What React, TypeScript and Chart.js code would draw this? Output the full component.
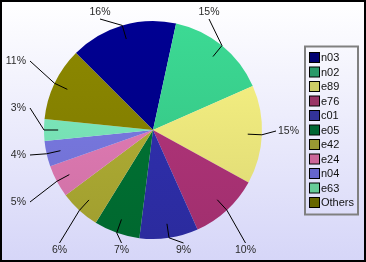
import React, { useEffect, useRef } from "react";
import { Chart, registerables } from "chart.js";

Chart.register(...registerables);

const categories = ["n03", "n02", "e89", "e76", "c01", "e05", "e42", "e24", "n04", "e63", "Others"];
const shares = [15.9, 15.0, 14.6, 10.3, 8.7, 6.8, 6.0, 4.8, 3.8, 3.2, 10.9];
const sliceColors = ["#000088", "#38cc8a", "#ebe67c", "#ac3276", "#2e2eaa", "#007032", "#acaa32", "#dc78b0", "#7676dc", "#78e2b6", "#848000"];
const legendColors = ["#000070", "#2a9a6a", "#cccc66", "#993366", "#333399", "#006633", "#999933", "#cc6699", "#6666cc", "#66cc99", "#666600"];

function shade(hex: string, f: number): string {
  const n = parseInt(hex.slice(1), 16);
  let r = (n >> 16) & 255, g = (n >> 8) & 255, b = n & 255;
  const adj = (c: number) => Math.max(0, Math.min(255, Math.round(c * (1 + f))));
  r = adj(r); g = adj(g); b = adj(b);
  return `rgb(${r},${g},${b})`;
}

const frameWidth = 2;
const FONT = "Liberation Sans, Arial, sans-serif";

const framePlugin = {
  id: "frame",
  beforeDraw(chart: any) {
    const { ctx, width, height } = chart;
    ctx.save();
    ctx.fillStyle = "#000";
    ctx.fillRect(0, 0, width, height);
    const g = ctx.createLinearGradient(0, frameWidth, 0, height - frameWidth);
    g.addColorStop(0, "#ffffff");
    g.addColorStop(1, "#d6d6f8");
    ctx.fillStyle = g;
    ctx.fillRect(frameWidth, frameWidth, width - 2 * frameWidth, height - 2 * frameWidth);
    ctx.restore();
  },
};

const labelPlugin = {
  id: "outLabels",
  afterDatasetsDraw(chart: any) {
    const meta = chart.getDatasetMeta(0);
    const data = chart.data.datasets[0].data as number[];
    const total = data.reduce((a, b) => a + b, 0);
    const ctx = chart.ctx;
    const groups: Record<string, any[]> = { top: [], right: [], bottom: [], left: [] };
    meta.data.forEach((el: any, i: number) => {
      const mid = (el.startAngle + el.endAngle) / 2;
      let deg = (mid * 180) / Math.PI + 90;
      deg = ((deg % 360) + 360) % 360;
      let side = "top";
      if (deg >= 45 && deg < 135) side = "right";
      else if (deg >= 135 && deg < 225) side = "bottom";
      else if (deg >= 225 && deg < 315) side = "left";
      const sortKey = side === "top" ? (deg > 180 ? deg - 360 : deg) : -deg;
      groups[side].push({ el, i, mid, sortKey });
    });
    ctx.save();
    ctx.font = `10.5px ${FONT}`;
    ctx.fillStyle = "#2a2a2a";
    ctx.strokeStyle = "#000";
    ctx.lineWidth = 1;
    const cfg: Record<string, { spacing: number }> = {
      top: { spacing: 109 },
      bottom: { spacing: 62 },
      left: { spacing: 47 },
      right: { spacing: 47 },
    };
    Object.keys(groups).forEach((side) => {
      const items = groups[side].sort((a, b) => a.sortKey - b.sortKey);
      const n = items.length;
      items.forEach((it, k) => {
        const el = it.el;
        const cx = el.x, cy = el.y, R = el.outerRadius;
        const off = (k - (n - 1) / 2) * cfg[side].spacing;
        let lx = 0, ly = 0, ex = 0, ey = 0;
        let align: CanvasTextAlign = "center";
        if (side === "top") { lx = cx + 1.5 + off; ly = cy - 118; ex = lx; ey = ly + 7; }
        else if (side === "bottom") { lx = cx - 0.5 + off; ly = cy + 120; ex = lx; ey = ly - 7; }
        else if (side === "left") { lx = cx - 127; ly = cy + 1.5 + off; ex = lx + 4; ey = ly; align = "right"; }
        else { lx = cx + 125; ly = cy + 1 + off; ex = lx - 2; ey = ly; align = "left"; }
        const ix = cx + Math.cos(it.mid) * R * 0.87;
        const iy = cy + Math.sin(it.mid) * R * 0.87;
        const bx = cx + Math.cos(it.mid) * R * 1.0;
        const by = cy + Math.sin(it.mid) * R * 1.0;
        ctx.beginPath();
        ctx.moveTo(ix, iy);
        ctx.lineTo(bx, by);
        ctx.lineTo(ex, ey);
        ctx.stroke();
        ctx.textAlign = align;
        ctx.textBaseline = "middle";
        const pct = Math.round((data[it.i] / total) * 100) + "%";
        ctx.fillText(pct, lx, ly);
      });
    });
    ctx.restore();
  },
};

const legendPlugin = {
  id: "boxLegend",
  afterDraw(chart: any) {
    const ctx = chart.ctx;
    const labels = chart.data.labels as string[];
    const x = 305, y = 46.5, w = 53, h = 168;
    ctx.save();
    ctx.strokeStyle = "#808080";
    ctx.lineWidth = 2;
    ctx.strokeRect(x, y, w, h);
    ctx.font = `11px ${FONT}`;
    ctx.textBaseline = "middle";
    ctx.textAlign = "left";
    labels.forEach((lab, i) => {
      const yc = 57.5 + i * 14.5;
      ctx.fillStyle = legendColors[i];
      ctx.fillRect(309.5, yc - 5, 10, 10);
      ctx.strokeStyle = "#000";
      ctx.lineWidth = 1;
      ctx.strokeRect(309.5, yc - 5, 10, 10);
      ctx.fillStyle = "#111";
      ctx.fillText(lab, 321, yc + 0.5);
    });
    ctx.restore();
  },
};

export default function App() {
  const ref = useRef<HTMLCanvasElement | null>(null);
  useEffect(() => {
    document.body.style.margin = "0";
    if (!ref.current) return;
    const chart = new Chart(ref.current, {
      type: "pie",
      data: {
        labels: categories,
        datasets: [
          {
            data: shares,
            borderWidth: 0,
            backgroundColor: (c: any) => {
              const i = c.dataIndex;
              const area = c.chart.chartArea;
              const base = sliceColors[i];
              if (!area) return base;
              const g = c.chart.ctx.createLinearGradient(0, area.top, 0, area.bottom);
              g.addColorStop(0, shade(base, 0.07));
              g.addColorStop(1, shade(base, -0.07));
              return g;
            },
          },
        ],
      },
      options: {
        responsive: false,
        animation: false,
        rotation: -45,
        layout: { padding: { left: 44, top: 21, right: 104, bottom: 23 } },
        plugins: { legend: { display: false }, tooltip: { enabled: false } },
      },
      plugins: [framePlugin, labelPlugin, legendPlugin],
    });
    return () => chart.destroy();
  }, []);
  return (
    <div style={{ position: "absolute", left: 0, top: 0, width: 366, height: 262 }}>
      <canvas ref={ref} width={366} height={262} style={{ display: "block", width: 366, height: 262 }} />
    </div>
  );
}
